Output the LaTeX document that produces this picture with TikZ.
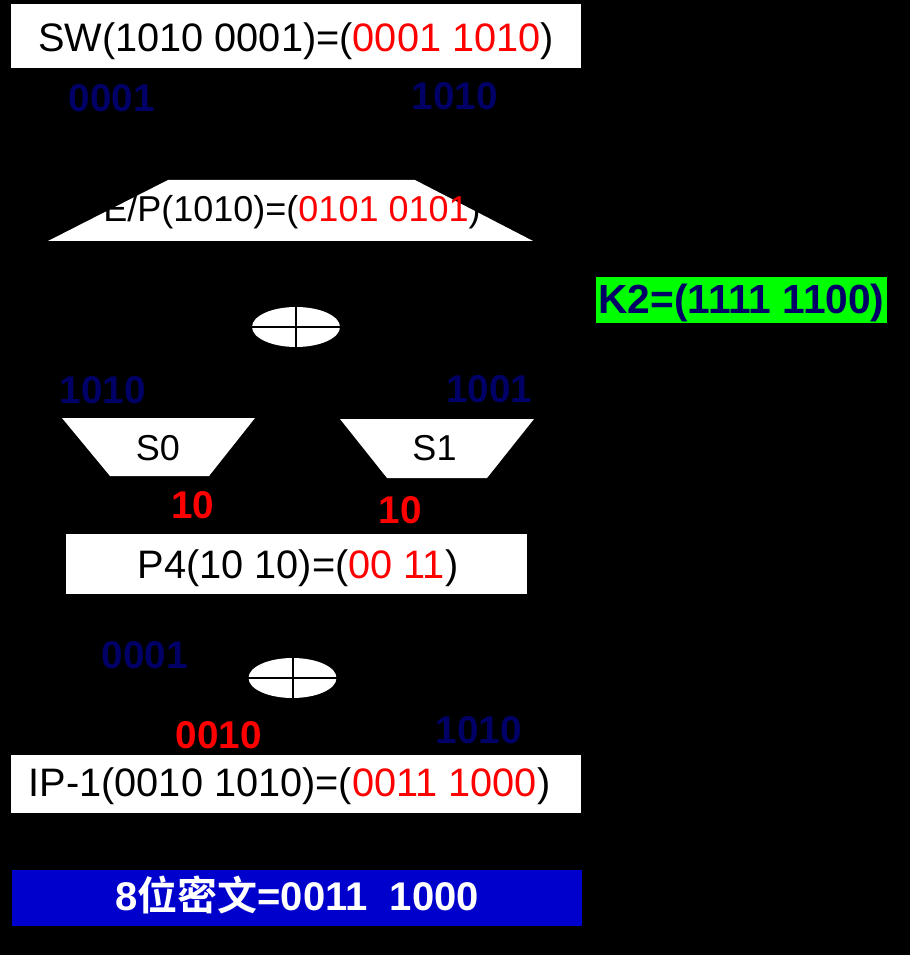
\documentclass[tikz,border=0pt]{standalone}
\usepackage{fontspec}
\setmainfont{Liberation Sans}
\newfontfamily\cjk{Noto Sans CJK SC}[BoldFont={Noto Sans CJK SC Bold}]
\usetikzlibrary{shapes.geometric}
\definecolor{navy}{RGB}{0,0,102}
\definecolor{redt}{RGB}{255,0,0}
\definecolor{keygreen}{RGB}{0,255,0}
\definecolor{boxblue}{RGB}{0,0,204}
\begin{document}
\begin{tikzpicture}[x=0.75pt,y=-0.75pt,
  txt/.style={anchor=base,inner sep=0pt,text=black,font=\fontsize{27}{30}\selectfont},
  bigtxt/.style={anchor=base,inner sep=0pt,text=black,font=\fontsize{29.8}{33}\selectfont},
  lbl/.style={anchor=base,inner sep=0pt,font=\fontsize{29}{32}\selectfont\bfseries},
  xorop/.style={ellipse,fill=white,minimum width=66pt,minimum height=30pt,inner sep=0pt},
  cross/.style={black,line width=1.5pt}]
\fill[black] (0,0) rectangle (910,955);
\useasboundingbox (0,0) rectangle (910,955);

% SW box
\fill[white] (10.7,4) rectangle (581,68);
\node[bigtxt] (sw) at (296,52) {SW(1010 0001)=(\textcolor{redt}{0001 1010})};

\node[lbl,text=navy] (l0001a) at (112,112) {0001};
\node[lbl,text=navy] (l1010a) at (455,110) {1010};

% E/P trapezoid
\fill[white] (168,180) -- (415,180) -- (533,241) -- (48,241) -- cycle;
\node[txt] (ep) at (292,222) {E/P(1010)=(\textcolor{redt}{0101 0101})};

% XOR 1
\node[xorop] (x1) at (296,327) {};
\draw[cross] (x1.north) -- (x1.south);
\draw[cross] (x1.west) -- (x1.east);

% K2
\fill[keygreen] (596,277) rectangle (887,323);
\node[lbl,text=navy,font=\fontsize{30.5}{33}\selectfont\bfseries] (k2) at (741.5,313) {K2=(1111 1100)};

\node[lbl,text=navy] (l1010b) at (103,403) {1010};
\node[lbl,text=navy] (l1001) at (489.5,402) {1001};

% S-boxes
\fill[white] (62,418) -- (255,418) -- (209,476) -- (110,476) -- cycle;
\node[txt] (s0) at (158,460) {S0};
\fill[white] (340,419) -- (534,419) -- (487,478) -- (387,478) -- cycle;
\node[txt] (s1) at (434.5,460) {S1};

\node[lbl,text=redt] (r10a) at (193,518) {10};
\node[lbl,text=redt] (r10b) at (400,523) {10};

% P4
\fill[white] (66,534) rectangle (527,594);
\node[bigtxt] (p4) at (298,578) {P4(10 10)=(\textcolor{redt}{00 11})};

\node[lbl,text=navy] (l0001b) at (145,668) {0001};

% XOR 2
\node[xorop] (x2) at (292.5,678) {};
\draw[cross] (x2.north) -- (x2.south);
\draw[cross] (x2.west) -- (x2.east);

\node[lbl,text=redt] (r0010) at (219,748) {0010};
\node[lbl,text=navy] (l1010c) at (479,743) {1010};

% IP-1
\fill[white] (10.7,755) rectangle (581,813);
\node[bigtxt] (ip) at (289.5,796) {IP-1(0010 1010)=(\textcolor{redt}{0011 1000})};

% result
\fill[boxblue] (11.5,870) rectangle (581.5,926);
\node[anchor=base,inner sep=0pt,text=white,font=\fontsize{30}{33}\selectfont\bfseries] (res) at (297,910) {8{\cjk\bfseries 位密文}=0011\ \ 1000};
\end{tikzpicture}
\end{document}
